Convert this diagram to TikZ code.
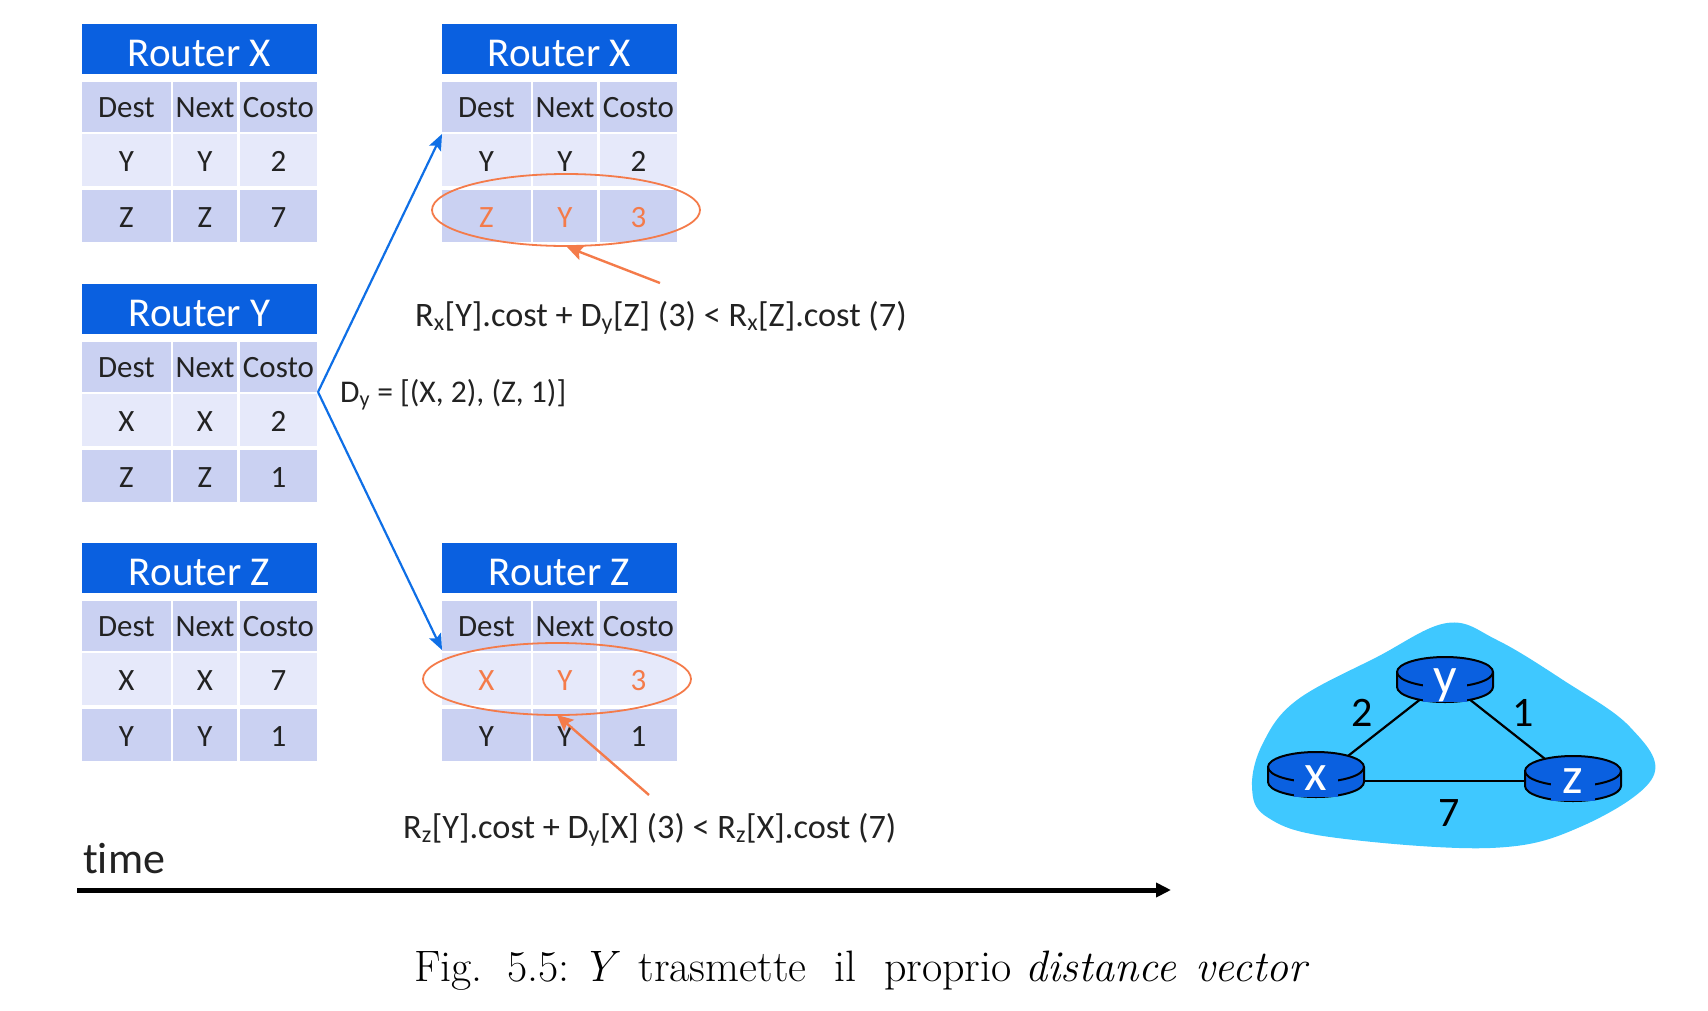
\documentclass[tikz,border=0pt]{standalone}
\usepackage{fontspec}
\usetikzlibrary{arrows.meta}
\newfontfamily\din[Ligatures=NoCommon]{Carlito}
\definecolor{hdblue}{HTML}{0A60E0}
\definecolor{rowa}{HTML}{CAD1F2}
\definecolor{rowb}{HTML}{E6E9FA}
\definecolor{ink}{HTML}{222222}
\definecolor{orng}{HTML}{F47B4A}
\definecolor{arrblue}{HTML}{0F6FE6}
\definecolor{cloudblue}{HTML}{3FC8FF}
\tikzset{
  cellbox/.style={inner sep=0pt,outer sep=0pt,anchor=center,text depth=0pt},
  hdtext/.style={font=\din\fontsize{41}{41}\selectfont,text=white,text height=27pt},
  celltext/.style={font=\din\fontsize{31}{31}\selectfont,text height=20pt},
  formula/.style={font=\din\fontsize{34.3}{36}\selectfont,text=ink,inner sep=0pt,anchor=west},
  ringline/.style={draw=orng,line width=1.8pt},
  pointer/.style={draw=orng,line width=2.4pt,-{Stealth[length=16pt,width=15pt,inset=3pt]}},
  sendline/.style={draw=arrblue,line width=2.2pt,-{Stealth[length=16pt,width=13pt,inset=3pt]}},
  linkline/.style={draw=black,line width=2.2pt},
  routerletter/.style={font=\din\fontsize{52}{52}\selectfont,text=white,inner sep=0pt},
  costlabel/.style={font=\din\fontsize{42}{42}\selectfont,text=black,inner sep=0pt},
}
\def\celldy{0}
% name, x0, y0, x1, y1, fill, text colour, text
\newcommand\cellat[8]{%
  \fill[#6] (#2,#3) rectangle (#4,#5);
  \node[cellbox,celltext,text=#7] (#1) at ({(#2+#4)/2},{(#3+#5)/2+\celldy}) {#8};}
% name, dx, dy, title
\newcommand\rhead[4]{%
  \def\celldy{0}%
  \fill[hdblue] ({#2+82},{#3+24}) rectangle ({#2+317},{#3+74});
  \node[cellbox,hdtext] (#1t) at ({#2+199.5},{#3+53}) {#4};
  \cellat{#1h1}{#2+82}{#3+82}{#2+171}{#3+132}{rowa}{ink}{Dest}
  \cellat{#1h2}{#2+173}{#3+82}{#2+237}{#3+132}{rowa}{ink}{Next}
  \cellat{#1h3}{#2+240}{#3+82}{#2+317}{#3+132}{rowa}{ink}{Costo}}
% name, dx, y0, y1, fill, colour, a, b, c
\newcommand\rrow[9]{%
  \def\celldy{1.5}%
  \cellat{#1a}{#2+82}{#3}{#2+171}{#4}{#5}{#6}{#7}
  \cellat{#1b}{#2+173}{#3}{#2+237}{#4}{#5}{#6}{#8}
  \cellat{#1c}{#2+240}{#3}{#2+317}{#4}{#5}{#6}{#9}}
% name, cx, cy, letter, letter y  (y axis points down, so angle 90 is downward)
\newcommand\routerdisk[5]{%
  \filldraw[fill=hdblue,draw=black,line width=2pt]
    ({#2-48},#3) -- ({#2-48},{#3+15}) arc[start angle=180,end angle=0,x radius=48,y radius=15]
    -- ({#2+48},#3) arc[start angle=0,end angle=-180,x radius=48,y radius=15] -- cycle;
  \draw[black,line width=2pt] ({#2-48},#3) arc[start angle=180,end angle=0,x radius=48,y radius=15];
  \fill[hdblue] ({#2-22},{#3+8}) rectangle ({#2+22},{#3+30});
  \node[routerletter] (#1) at (#2,#5) {#4};}
\begin{document}
\begin{tikzpicture}[x=1pt,y=-1pt]
\useasboundingbox (0,0) rectangle (1708,1010);
% left column
\rhead{xa}{0}{0}{Router X}
\rrow{xar}{0}{134}{186}{rowb}{ink}{Y}{Y}{2}
\rrow{xas}{0}{190}{242}{rowa}{ink}{Z}{Z}{7}
\rhead{ya}{0}{260}{Router Y}
\rrow{yar}{0}{394}{446}{rowb}{ink}{X}{X}{2}
\rrow{yas}{0}{450}{502}{rowa}{ink}{Z}{Z}{1}
\rhead{za}{0}{519}{Router Z}
\rrow{zar}{0}{653}{705}{rowb}{ink}{X}{X}{7}
\rrow{zas}{0}{709}{761}{rowa}{ink}{Y}{Y}{1}
% right column
\rhead{xb}{360}{0}{Router X}
\rrow{xbr}{360}{134}{186}{rowb}{ink}{Y}{Y}{2}
\rrow{xbs}{360}{190}{242}{rowa}{orng}{Z}{Y}{3}
\rhead{zb}{360}{519}{Router Z}
\rrow{zbr}{360}{653}{705}{rowb}{orng}{X}{Y}{3}
\rrow{zbs}{360}{709}{761}{rowa}{ink}{Y}{Y}{1}
% rings
\coordinate (ringx) at (566,210);
\coordinate (ringz) at (557,679);
\draw[ringline] (ringx) ellipse[x radius=134,y radius=36];
\draw[ringline] (ringz) ellipse[x radius=134,y radius=36];
% sending arrows
\coordinate (src) at (318,392);
\coordinate (dstx) at (442,134);
\coordinate (dstz) at (442,650);
\draw[sendline] (src) -- (dstx);
\draw[sendline] (src) -- (dstz);
\node[formula,font=\din\fontsize{31.6}{36}\selectfont] (dy) at (340,395) {D\textsubscript{y} = [(X, 2), (Z, 1)]};
% formulas and pointers
\node[formula] (fx) at (415,318) {R\textsubscript{x}[Y].cost + D\textsubscript{y}[Z] (3) < R\textsubscript{x}[Z].cost (7)};
\node[formula] (fz) at (403,830) {R\textsubscript{z}[Y].cost + D\textsubscript{y}[X] (3) < R\textsubscript{z}[X].cost (7)};
\coordinate (pxs) at (660,283);
\coordinate (pxe) at (567,247);
\coordinate (pzs) at (649,795);
\coordinate (pze) at (557,715);
\draw[pointer] (pxs) -- (pxe);
\draw[pointer] (pzs) -- (pze);
% time axis
\node[font=\din\fontsize{44}{44}\selectfont,text=ink,inner sep=0pt,anchor=west] (timelabel) at (83,859) {time};
\coordinate (ts) at (77,890);
\coordinate (te) at (1171,890);
\draw[black,line width=5pt,-{Stealth[length=15pt,width=14pt,inset=0pt]}] (ts) -- (te);
% caption
\node[font=\fontsize{44}{44}\selectfont,inner sep=0pt,anchor=base west,text=black] (caption) at (414,981)
  {Fig.\hspace{24.5pt}5.5:\hspace{13pt}\textit{Y}\hspace{18pt}trasmette\hspace{27.7pt}il\hspace{27.7pt}proprio\hspace{14pt}\textit{distance\hspace{19pt}vector}};
% network cloud
\fill[cloudblue] plot[smooth cycle,tension=.62] coordinates {
  (1447,623) (1377,657) (1297,700) (1263,743) (1252,787) (1267,817) (1330,837)
  (1490,848) (1580,827) (1653,777) (1630,727) (1563,680) (1497,640)};
\coordinate (cx) at (1316,781);
\coordinate (cy) at (1445,680);
\coordinate (cz) at (1573,781);
\draw[linkline] (cx) -- (cy);
\draw[linkline] (cy) -- (cz);
\draw[linkline] (cx) -- (cz);
\routerdisk{rx}{1316}{767}{x}{778}
\routerdisk{ry}{1445}{672}{y}{685}
\routerdisk{rz}{1573}{771}{z}{781}
\node[costlabel] (c2) at (1362,713) {2};
\node[costlabel] (c1) at (1523,713) {1};
\node[costlabel] (c7) at (1449,813) {7};
\end{tikzpicture}
\end{document}
